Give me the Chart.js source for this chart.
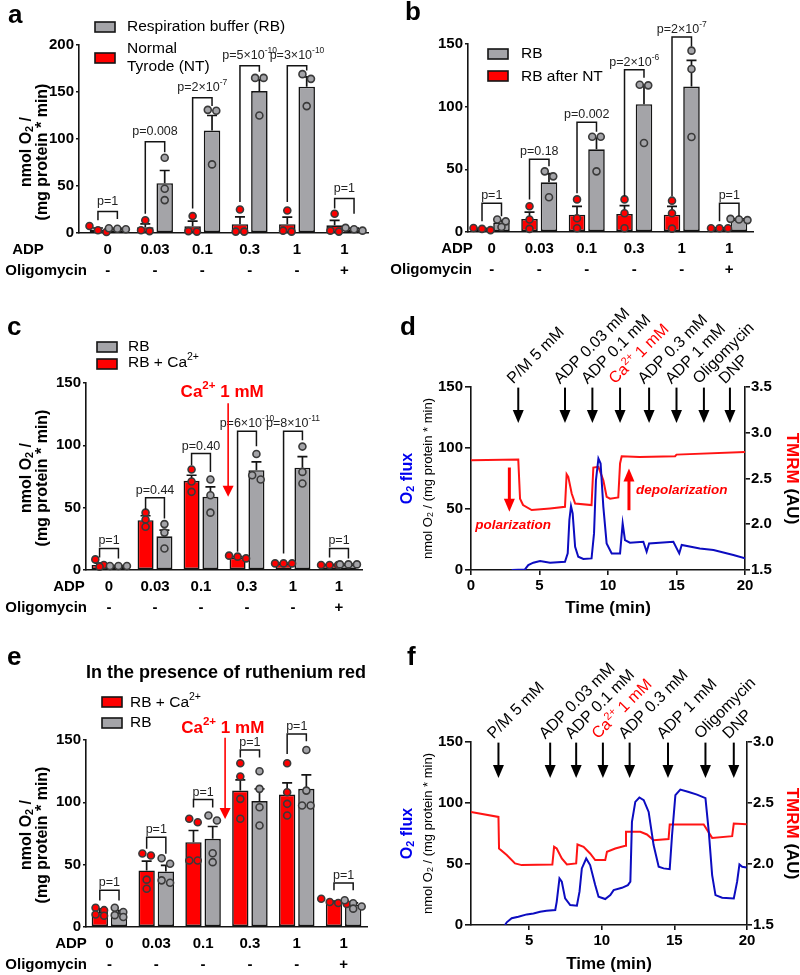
<!DOCTYPE html>
<html>
<head>
<meta charset="utf-8">
<script src="https://cdn.jsdelivr.net/npm/chart.js@4.4.1/dist/chart.umd.min.js"></script>
<style>
  body { margin: 0; background: #fff; }
  #fig { position: relative; width: 800px; height: 975px; overflow: hidden; }
  canvas { position: absolute; }
  .tag { position: absolute; font: bold 26px Arial, "Liberation Sans", sans-serif; line-height: 26px; color: #000; }
</style>
</head>
<body>
<div id="fig">
  <canvas id="panelA" width="400" height="320" style="left:0;top:0"></canvas>
  <canvas id="panelB" width="430" height="320" style="left:370px;top:0"></canvas>
  <canvas id="panelC" width="400" height="320" style="left:0;top:320px"></canvas>
  <canvas id="panelD" width="400" height="340" style="left:400px;top:300px"></canvas>
  <canvas id="panelE" width="400" height="335" style="left:0;top:640px"></canvas>
  <canvas id="panelF" width="400" height="335" style="left:400px;top:640px"></canvas>
  <div class="tag" style="left:8px;top:1px">a</div>
  <div class="tag" style="left:405px;top:-2px">b</div>
  <div class="tag" style="left:7px;top:313px">c</div>
  <div class="tag" style="left:400px;top:313px">d</div>
  <div class="tag" style="left:7px;top:643px">e</div>
  <div class="tag" style="left:407px;top:643px">f</div>
</div>
<script>
// ---- data ----
const adpDoses = ["0", "0.03", "0.1", "0.3", "1", "1"];
const oligoFlags = ["-", "-", "-", "-", "-", "+"];

// a: respiration buffer vs normal tyrode
const aNtMean = [3.8, 6.2, 7.2, 9.3, 9.3, 8.2];
const aNtSem = [1.5, 3.5, 5.5, 7.8, 7.5, 5.3];
const aNtPts = [[7.5, 3, 1], [13.5, 3, 2], [18, 2, 1.5], [25, 1.5, 1.5], [24, 2.5, 1.5], [20.5, 2.5, 1.5]];
const aRbMean = [4.5, 53, 109, 151, 155.6, 4];
const aRbSem = [0.5, 13.5, 16, 12, 10.5, 1.2];
const aRbPts = [[4, 5, 4.5], [80, 47, 35], [131, 130, 73], [165, 165, 125], [169, 164, 135], [2.5, 4, 5.5]];
const aBrTop = [23, 97, 144, 178, 178, 36.6];
const aBrLeft = [13.5, 20.6, 26, 33, 33, 26];
const aBrRight = [15, 86, 135, 171.5, 173, 20.6];
const aPvals = ["p=1", "p=0.008", "p=2×10^{-7}", "p=5×10^{-10}", "p=3×10^{-10}", "p=1"];

// b: RB vs RB after NT
const bNtMean = [2.5, 10.4, 13.8, 14.4, 13.8, 3];
const bNtSem = [0.5, 5.5, 6.7, 6.6, 6.7, 0.3];
const bNtPts = [[1.5, 2.5, 3.2], [20.5, 10, 2.5], [26, 11, 3], [26, 15, 3], [25, 15, 2.7], [3, 3, 3]];
const bRbMean = [7.5, 39.6, 66, 102, 116, 10];
const bRbSem = [1.5, 7, 9, 15, 21, 0.5];
const bRbPts = [[10, 8.5, 4], [48.4, 44.4, 27.7], [76, 76, 48.4], [117.5, 117, 71], [144.7, 130, 75.8], [10, 10.5, 9.5]];
const bBrTop = [23, 58, 87.5, 129.5, 155.6, 23];
const bBrLeft = [8.5, 26, 31, 28.5, 28.5, 8.5];
const bBrRight = [12.5, 52.4, 80, 123, 148, 12.5];
const bPvals = ["p=1", "p=0.18", "p=0.002", "p=2×10^{-6}", "p=2×10^{-7}", "p=1"];

// c: RB vs RB + Ca2+
const cCaMean = [4, 40, 71.5, 10, 5.3, 4];
const cCaSem = [1.5, 3.5, 4.5, 0.8, 0.3, 0.3];
const cCaPts = [[8.5, 4, 2.7], [46, 40.5, 34.7], [80.6, 71, 62.7], [9.3, 10.7, 11.5], [5.3, 5.3, 5.3], [4, 4, 4]];
const cRbMean = [3.2, 27, 58.7, 80, 82, 4.5];
const cRbSem = [0.3, 5, 8, 6.7, 9, 0.3];
const cRbPts = [[3.2, 3.2, 3.2], [36.8, 30, 17.3], [72.6, 60, 46], [93, 76, 72.6], [99, 78.7, 69.4], [4.5, 4.5, 4.5]];
const cBrTop = [17.3, 58, 93.4, 111.3, 111.3, 17.3];
const cBrLeft = [10, 48.6, 84, 14.7, 13.3, 10];
const cBrRight = [9.3, 41.4, 78.7, 99.3, 104, 9.3];
const cPvals = ["p=1", "p=0.44", "p=0.40", "p=6×10^{-10}", "p=8×10^{-11}", "p=1"];

// e: with ruthenium red
const eCaMean = [12, 45.4, 68, 109.4, 106.2, 20];
const eCaSem = [2.5, 7.4, 9.4, 8.6, 9.4, 0.8];
const eCaPts = [[15.5, 13.5, 10, 9], [59, 57.4, 38, 30.7], [86.8, 84, 53.4, 53.4], [131.3, 120.7, 102.8, 86.8], [131.3, 108.1, 98.8, 89.4], [22.7, 20, 19.2, 18.5]];
const eRbMean = [11.2, 44.6, 70.7, 101, 110.8, 17.9];
const eRbSem = [2, 4.8, 9.9, 9.8, 11.2, 1.4];
const eRbPts = [[15.5, 12, 9.5, 8], [55.2, 50.7, 37.4, 35.5], [89.4, 85.4, 59.2, 52], [124.9, 110.8, 96.1, 81.4], [142, 109.4, 97.4, 97.4], [21.4, 19, 16.5, 14.7]];
const eBrTop = [29.4, 72, 102.2, 142, 154.8, 35.2];
const eBrLeft = [21.3, 62.7, 95.8, 136, 138.8, 29.4];
const eBrRight = [21.3, 58.7, 95.8, 136, 148.9, 29.4];
const ePvals = ["p=1", "p=1", "p=1", "p=1", "p=1", "p=1"];

// d/f: traces (time in min)
const arrowLabels = ["P/M 5 mM", "ADP 0.03 mM", "ADP 0.1 mM", "Ca^{2+} 1 mM", "ADP 0.3 mM", "ADP 1 mM", "Oligomycin", "DNP"];
const dArrowT = [3.45, 6.86, 8.86, 10.88, 13.0, 15.0, 17.0, 18.9];
const fArrowT = [2.89, 6.45, 8.24, 10.08, 11.92, 14.56, 17.14, 19.09];
const arrowTop = 149.5;
const arrowTip = 120.5;

const dFluxT = [2.97, 3.94, 4.18, 4.55, 5.04, 5.77, 6.86, 7.06, 7.18, 7.3, 7.42, 7.6, 7.83, 8.2, 8.8, 8.98, 9.12, 9.3, 9.46, 9.66, 9.9, 10.27, 10.88, 11.07, 11.24, 11.6, 12.58, 12.82, 13.0, 14.77, 15.2, 15.38, 16.7, 17.7, 19.15, 20];
const dFluxV = [0, 0.5, 4, 6, 7.4, 6, 6.8, 13.6, 40.9, 52.4, 46.4, 19, 10.9, 9, 9.5, 30, 73.6, 91.4, 87.3, 51.8, 21.8, 13.6, 13.6, 38.2, 24.5, 22.4, 23.2, 15, 21.8, 23.2, 13.6, 20.5, 17.7, 16.4, 12.3, 9.5];
const dTmrmT = [0, 3.45, 3.58, 3.8, 4.43, 5.77, 6.86, 6.98, 7.1, 7.35, 7.6, 8.8, 8.93, 9.3, 9.66, 9.9, 10.15, 10.75, 10.88, 11.0, 12.3, 14.9, 15.0, 20];
const dTmrmV = [2.70, 2.707, 2.28, 2.21, 2.155, 2.173, 2.19, 2.547, 2.519, 2.336, 2.227, 2.21, 2.62, 2.627, 2.48, 2.30, 2.28, 2.293, 2.664, 2.744, 2.736, 2.744, 2.761, 2.79];

const fFluxT = [3.34, 3.46, 3.8, 4.26, 4.84, 5.3, 5.76, 6.2, 6.8, 6.9, 7.09, 7.25, 7.48, 7.83, 8.29, 8.47, 8.63, 8.93, 9.2, 9.55, 9.78, 10.24, 10.59, 10.82, 11.39, 11.8, 11.97, 12.08, 12.31, 12.59, 12.89, 13.23, 13.57, 13.92, 14.26, 14.68, 14.84, 15.07, 15.41, 15.99, 16.56, 17.14, 17.37, 17.6, 17.83, 18.29, 19.09, 19.32, 19.48, 19.67, 19.97];
const fFluxV = [0, 2.2, 5.5, 6.8, 8.7, 9.5, 10.9, 11.7, 12.3, 19, 38.2, 35.5, 21.8, 16.4, 15.8, 27.3, 46.4, 54.5, 49.1, 32.7, 23.2, 21.3, 24.5, 28.6, 30.5, 32.7, 35.5, 84.5, 100.9, 104.5, 102.3, 92.7, 65.5, 47.7, 46.4, 45.8, 73.6, 106.4, 111, 109, 106.9, 104, 76.4, 40.9, 24.5, 22.4, 21.8, 35.5, 49.6, 47.7, 47.2];
const fTmrmT = [1, 2.89, 2.93, 3.46, 4.03, 4.49, 6.6, 6.72, 6.9, 7.25, 7.6, 8.24, 8.33, 8.75, 9.2, 9.55, 10.24, 10.36, 10.93, 11.62, 11.67, 12.66, 13.11, 13.57, 14.6, 14.68, 17.02, 17.6, 18.98, 19.09, 19.97];
const fTmrmV = [2.427, 2.386, 2.127, 2.073, 2.005, 1.991, 1.996, 2.141, 2.127, 2.045, 1.996, 2.005, 2.16, 2.141, 2.086, 2.032, 2.032, 2.10, 2.127, 2.149, 2.264, 2.264, 2.242, 2.195, 2.204, 2.324, 2.324, 2.214, 2.228, 2.332, 2.326];

const dXTicks = [0, 5, 10, 15, 20];
const fXTicks = [5, 10, 15, 20];

// ---- style ----
const FONT = 'Arial, "Liberation Sans", sans-serif';
const RED = "#ff0000";
const GRAY = "#a4a4a8";
const INK = "#141414";
const BLUE = "#0c0cc0";
const TRED = "#ff1414";

Chart.defaults.font.family = FONT;
Chart.defaults.color = "#000";

const $ = (id) => document.getElementById(id);

// text with ^{sup} and _{sub} parts
function richParts(str) {
  const out = [];
  const re = /([\^_])\{([^}]*)\}/g;
  let last = 0;
  let m;
  while ((m = re.exec(str))) {
    if (m.index > last) out.push({ t: str.slice(last, m.index), k: "" });
    out.push({ t: m[2], k: m[1] });
    last = re.lastIndex;
  }
  if (last < str.length) out.push({ t: str.slice(last), k: "" });
  return out;
}

function drawRich(ctx, str, x, y, size, weight, align) {
  const parts = richParts(str);
  const fontOf = (p) => `${weight} ${p.k ? size * 0.68 : size}px ${FONT}`;
  let total = 0;
  parts.forEach((p) => {
    ctx.font = fontOf(p);
    p.w = ctx.measureText(p.t).width;
    total += p.w;
  });
  let cx = align === "center" ? x - total / 2 : align === "right" ? x - total : x;
  ctx.textAlign = "left";
  parts.forEach((p) => {
    ctx.font = fontOf(p);
    const dy = p.k === "^" ? -size * 0.38 : p.k === "_" ? size * 0.2 : 0;
    ctx.fillText(p.t, cx, y + dy);
    cx += p.w;
  });
}

function arrowDown(ctx, x, yTop, yTip, color, shaft, headW, headH) {
  ctx.strokeStyle = color;
  ctx.fillStyle = color;
  ctx.lineWidth = shaft;
  const dir = yTip > yTop ? 1 : -1;
  ctx.beginPath();
  ctx.moveTo(x, yTop);
  ctx.lineTo(x, yTip - dir * headH * 0.8);
  ctx.stroke();
  ctx.beginPath();
  ctx.moveTo(x - headW / 2, yTip - dir * headH);
  ctx.lineTo(x + headW / 2, yTip - dir * headH);
  ctx.lineTo(x, yTip);
  ctx.closePath();
  ctx.fill();
}

function drawDots(ctx, chart, i, pts, fill) {
  const meta = chart.getDatasetMeta(i);
  const y = chart.scales.y;
  pts.forEach((vals, j) => {
    const x0 = meta.data[j].x;
    const ys = vals.map((v) => y.getPixelForValue(v)).sort((p, q) => p - q);
    const groups = [];
    ys.forEach((py) => {
      const g = groups[groups.length - 1];
      if (g && py - g[0] < 6.5) g.push(py);
      else groups.push([py]);
    });
    groups.forEach((g) => {
      g.forEach((py, k) => {
        const dx = (k - (g.length - 1) / 2) * 8.5;
        ctx.beginPath();
        ctx.arc(x0 + dx, py, 3.5, 0, Math.PI * 2);
        ctx.fillStyle = fill;
        ctx.fill();
        ctx.lineWidth = 1.6;
        ctx.strokeStyle = "#3a3a3a";
        ctx.stroke();
      });
    });
  });
}

function barDecor(cfg) {
  return {
    id: "barDecor",
    afterLayout(chart) {
      if (!cfg.xShift) return;
      const xs = chart.scales.x;
      xs._startPixel += cfg.xShift;
      xs._length = xs._endPixel - xs._startPixel;
    },
    afterDatasetsDraw(chart) {
      const ctx = chart.ctx;
      const y = chart.scales.y;
      ctx.save();
      // error bars (mean + SEM)
      cfg.series.forEach((s, i) => {
        chart.getDatasetMeta(i).data.forEach((bar, j) => {
          const y0 = y.getPixelForValue(s.mean[j]);
          const y1 = y.getPixelForValue(s.mean[j] + s.sem[j]);
          ctx.strokeStyle = INK;
          ctx.lineWidth = 1.7;
          ctx.beginPath();
          ctx.moveTo(bar.x, y0);
          ctx.lineTo(bar.x, y1);
          ctx.moveTo(bar.x - 5, y1);
          ctx.lineTo(bar.x + 5, y1);
          ctx.stroke();
        });
      });
      cfg.series.forEach((s, i) => drawDots(ctx, chart, i, s.pts, s.color));
      // significance brackets
      const left = chart.getDatasetMeta(0).data;
      const right = chart.getDatasetMeta(1).data;
      ctx.textBaseline = "middle";
      cfg.br.top.forEach((t, j) => {
        const xl = left[j].x;
        const xr = right[j].x;
        const yt = y.getPixelForValue(t);
        ctx.strokeStyle = INK;
        ctx.lineWidth = 1.5;
        ctx.beginPath();
        ctx.moveTo(xl, y.getPixelForValue(cfg.br.left[j]));
        ctx.lineTo(xl, yt);
        ctx.lineTo(xr, yt);
        ctx.lineTo(xr, y.getPixelForValue(cfg.br.right[j]));
        ctx.stroke();
        ctx.fillStyle = "#222";
        drawRich(ctx, cfg.br.text[j], (xl + xr) / 2, yt - cfg.br.gap, 12.5, "", "center");
      });
      ctx.restore();
    },
    afterDraw(chart) {
      const ctx = chart.ctx;
      const xs = chart.scales.x;
      const y = chart.scales.y;
      ctx.save();
      // y axis title
      if (cfg.ytitle.show) {
        ctx.save();
        ctx.translate(cfg.ytitle.x, cfg.ytitle.y);
        ctx.rotate(-Math.PI / 2);
        ctx.fillStyle = "#000";
        ctx.textBaseline = "middle";
        drawRich(ctx, "nmol O_{2} /", 0, 0, 16, "bold", "center");
        drawRich(ctx, "(mg protein * min)", 0, 15.5, 16, "bold", "center");
        ctx.restore();
      }

      // row labels, aligned with the tick rows
      const items = xs.getLabelItems();
      const first = items[0];
      const lh = first.font.lineHeight;
      const row0 = first.options.translation[1] + first.textOffset;
      ctx.font = "bold 15px " + FONT;
      ctx.fillStyle = "#000";
      ctx.textBaseline = first.options.textBaseline;
      ctx.textAlign = "center";
      ctx.fillText("ADP", cfg.rows.adp, row0);
      ctx.textAlign = "right";
      ctx.fillText("Oligomycin", cfg.rows.oligo, row0 + lh);

      // legend
      cfg.legend.forEach((it) => {
        ctx.fillStyle = it.color;
        ctx.fillRect(it.bx, it.by, 20, 10);
        ctx.strokeStyle = INK;
        ctx.lineWidth = 1.6;
        ctx.strokeRect(it.bx, it.by, 20, 10);
        ctx.fillStyle = "#000";
        ctx.textBaseline = "middle";
        it.text.forEach((t, k) => drawRich(ctx, t, it.tx, it.ty + k * 18, 15.5, "", "left"));
      });

      // Ca2+ addition arrow
      if (cfg.ca) {
        const ax = xs.getPixelForValue(cfg.ca.x);
        arrowDown(ctx, ax, y.getPixelForValue(cfg.ca.from), y.getPixelForValue(cfg.ca.to), RED, 1.6, 11, 11);
        ctx.fillStyle = RED;
        ctx.textBaseline = "middle";
        drawRich(ctx, "Ca^{2+} 1 mM", xs.getPixelForValue(cfg.ca.tx), y.getPixelForValue(cfg.ca.ty), 17, "bold", "center");
      }

      if (cfg.title) {
        ctx.font = "bold 18px " + FONT;
        ctx.fillStyle = "#000";
        ctx.textAlign = "center";
        ctx.textBaseline = "middle";
        ctx.fillText(cfg.title.text, cfg.title.x, cfg.title.y);
      }
      ctx.restore();
    },
  };
}

function barChart(id, cfg) {
  return new Chart($(id), {
    type: "bar",
    data: {
      labels: adpDoses.map((d, i) => [d, oligoFlags[i]]),
      datasets: cfg.series.map((s) => ({
        data: s.mean,
        backgroundColor: s.color,
        borderColor: INK,
        borderWidth: 1.6,
        borderSkipped: false,
        categoryPercentage: 0.82,
        barPercentage: 0.85,
      })),
    },
    options: {
      responsive: false,
      animation: false,
      events: [],
      layout: { padding: { left: 0, top: cfg.box.top, right: cfg.box.right, bottom: 0 } },
      plugins: { legend: { display: false }, tooltip: { enabled: false } },
      scales: {
        x: {
          grid: { display: false, tickLength: 0 },
          border: { color: INK, width: 1.6 },
          ticks: { color: "#000", padding: 7, autoSkip: false, maxRotation: 0, font: { size: 15, weight: "bold", lineHeight: 1.37 } },
          afterFit: (s) => { s.height = cfg.box.xh; },
        },
        y: {
          min: 0,
          max: cfg.ymax,
          ticks: { stepSize: 50, color: "#000", padding: 2, font: { size: 15, weight: "bold" } },
          grid: { drawOnChartArea: false, tickLength: 3, color: INK, lineWidth: 1.6 },
          border: { color: INK, width: 1.6 },
          afterFit: (s) => { s.width = cfg.box.yw; },
        },
      },
    },
    plugins: [barDecor(cfg)],
  });
}

function traceDecor(cfg) {
  return {
    id: "traceDecor",
    afterDraw(chart) {
      const ctx = chart.ctx;
      const x = chart.scales.x;
      const y = chart.scales.y;
      const area = chart.chartArea;
      ctx.save();
      cfg.arrows.forEach((t, k) => {
        const px = x.getPixelForValue(t);
        const top = y.getPixelForValue(arrowTop);
        arrowDown(ctx, px, top, y.getPixelForValue(arrowTip), "#000", 2, 11, 13);
        ctx.save();
        ctx.translate(px - 5, top - 3);
        ctx.rotate(-Math.PI / 4);
        ctx.fillStyle = k === 3 ? RED : "#000";
        ctx.textBaseline = "alphabetic";
        drawRich(ctx, arrowLabels[k], 0, 0, 16, "", "left");
        ctx.restore();
      });
      (cfg.redArrows || []).forEach((a) => {
        arrowDown(ctx, x.getPixelForValue(a.x), y.getPixelForValue(a.from), y.getPixelForValue(a.to), RED, 3, 11, 13);
      });
      (cfg.notes || []).forEach((n) => {
        ctx.font = "italic bold 13.5px " + FONT;
        ctx.fillStyle = RED;
        ctx.textAlign = n.align;
        ctx.textBaseline = "middle";
        ctx.fillText(n.text, x.getPixelForValue(n.x), y.getPixelForValue(n.y));
      });
      // left axis title
      const cy = (area.top + area.bottom) / 2;
      ctx.save();
      ctx.translate(8, cy);
      ctx.rotate(-Math.PI / 2);
      ctx.textBaseline = "middle";
      ctx.fillStyle = "#0000ee";
      drawRich(ctx, "O_{2} flux", 0, 0, 16, "bold", "center");
      ctx.fillStyle = "#000";
      drawRich(ctx, "nmol O_{2} / (mg protein * min)", 0, 20, 13, "", "center");
      ctx.restore();
      // right axis title
      ctx.save();
      ctx.translate(chart.width - 8, cy);
      ctx.rotate(Math.PI / 2);
      ctx.font = "bold 17px " + FONT;
      ctx.textBaseline = "middle";
      ctx.textAlign = "left";
      const w1 = ctx.measureText("TMRM ").width;
      const w2 = ctx.measureText("(AU)").width;
      ctx.fillStyle = RED;
      ctx.fillText("TMRM ", -(w1 + w2) / 2, 0);
      ctx.fillStyle = "#000";
      ctx.fillText("(AU)", -(w1 + w2) / 2 + w1, 0);
      ctx.restore();
      ctx.restore();
    },
  };
}

function traceChart(id, cfg) {
  const axisTicks = { color: "#000", font: { size: 15, weight: "bold" } };
  return new Chart($(id), {
    type: "line",
    data: {
      datasets: [
        {
          data: cfg.fluxT.map((t, i) => ({ x: t, y: cfg.fluxV[i] })),
          borderColor: BLUE,
          borderWidth: 2,
          pointRadius: 0,
          tension: 0,
          yAxisID: "y",
        },
        {
          data: cfg.tmrmT.map((t, i) => ({ x: t, y: cfg.tmrmV[i] })),
          borderColor: TRED,
          borderWidth: 2,
          pointRadius: 0,
          tension: 0,
          yAxisID: "y1",
        },
      ],
    },
    options: {
      responsive: false,
      animation: false,
      events: [],
      layout: { padding: { left: 0, top: cfg.box.top, right: 0, bottom: 0 } },
      plugins: { legend: { display: false }, tooltip: { enabled: false } },
      scales: {
        x: {
          type: "linear",
          min: cfg.xmin,
          max: 20,
          afterBuildTicks: (s) => { s.ticks = cfg.xticks.map((v) => ({ value: v })); },
          ticks: { ...axisTicks, padding: 2 },
          grid: { drawOnChartArea: false, tickLength: 5, color: INK, lineWidth: 1.6 },
          border: { color: INK, width: 1.6 },
          title: { display: true, text: "Time (min)", color: "#000", font: { size: 17, weight: "bold", lineHeight: 1.2 }, padding: { top: 0, bottom: cfg.titlePad } },
          afterFit: (s) => { s.height = cfg.box.xh; },
        },
        y: {
          position: "left",
          min: 0,
          max: 150,
          ticks: { ...axisTicks, stepSize: 50, padding: 2 },
          grid: { drawOnChartArea: false, tickLength: 6, color: INK, lineWidth: 1.6 },
          border: { color: INK, width: 1.6 },
          afterFit: (s) => { s.width = cfg.box.yw; },
        },
        y1: {
          position: "right",
          min: cfg.rmin,
          max: cfg.rmax,
          ticks: { ...axisTicks, stepSize: 0.5, padding: 1, callback: (v) => v.toFixed(1) },
          grid: { drawOnChartArea: false, tickLength: 5, color: INK, lineWidth: 1.6 },
          border: { color: INK, width: 1.6 },
          afterFit: (s) => { s.width = cfg.box.rw; },
        },
      },
    },
    plugins: [traceDecor(cfg)],
  });
}

// ---- panels ----
barChart("panelA", {
  ymax: 200,
  xShift: 5,
  box: { top: 45, right: 32, yw: 79, xh: 87 },
  series: [
    { mean: aNtMean, sem: aNtSem, pts: aNtPts, color: RED },
    { mean: aRbMean, sem: aRbSem, pts: aRbPts, color: GRAY },
  ],
  br: { top: aBrTop, left: aBrLeft, right: aBrRight, text: aPvals, gap: 10 },
  ytitle: { show: true, x: 27, y: 152 },
  rows: { adp: 28, oligo: 87 },
  legend: [
    { color: GRAY, bx: 95, by: 22, tx: 127, ty: 27, text: ["Respiration buffer (RB)"] },
    { color: RED, bx: 95, by: 53, tx: 127, ty: 49, text: ["Normal", "Tyrode (NT)"] },
  ],
});

barChart("panelB", {
  ymax: 150,
  box: { top: 44, right: 47, yw: 98, xh: 88 },
  series: [
    { mean: bNtMean, sem: bNtSem, pts: bNtPts, color: RED },
    { mean: bRbMean, sem: bRbSem, pts: bRbPts, color: GRAY },
  ],
  br: { top: bBrTop, left: bBrLeft, right: bBrRight, text: bPvals, gap: 7.5 },
  ytitle: { show: false, x: 0, y: 0 },
  rows: { adp: 87, oligo: 102 },
  legend: [
    { color: GRAY, bx: 118, by: 49, tx: 151, ty: 54, text: ["RB"] },
    { color: RED, bx: 118, by: 71, tx: 151, ty: 77, text: ["RB after NT"] },
  ],
});

barChart("panelC", {
  ymax: 150,
  box: { top: 63, right: 38, yw: 86, xh: 70 },
  series: [
    { mean: cCaMean, sem: cCaSem, pts: cCaPts, color: RED },
    { mean: cRbMean, sem: cRbSem, pts: cRbPts, color: GRAY },
  ],
  br: { top: cBrTop, left: cBrLeft, right: cBrRight, text: cPvals, gap: 7.5 },
  ytitle: { show: true, x: 27, y: 158 },
  rows: { adp: 69, oligo: 87 },
  legend: [
    { color: GRAY, bx: 97, by: 22, tx: 128, ty: 27, text: ["RB"] },
    { color: RED, bx: 97, by: 39, tx: 128, ty: 43, text: ["RB + Ca^{2+}"] },
  ],
  ca: { x: 2.59, from: 133.7, to: 58.7, tx: 2.46, ty: 142.5 },
});

traceChart("panelD", {
  xmin: 0,
  xticks: dXTicks,
  rmin: 1.5,
  rmax: 3.5,
  titlePad: 21,
  box: { top: 87, yw: 71, rw: 55, xh: 70 },
  fluxT: dFluxT,
  fluxV: dFluxV,
  tmrmT: dTmrmT,
  tmrmV: dTmrmV,
  arrows: dArrowT,
  redArrows: [
    { x: 2.8, from: 84, to: 47.7 },
    { x: 11.53, from: 49, to: 83.2 },
  ],
  notes: [
    { text: "polarization", x: 3.08, y: 36.8, align: "center" },
    { text: "depolarization", x: 12.04, y: 65.5, align: "left" },
  ],
});

barChart("panelE", {
  ymax: 150,
  box: { top: 100, right: 33, yw: 86, xh: 48 },
  series: [
    { mean: eCaMean, sem: eCaSem, pts: eCaPts, color: RED },
    { mean: eRbMean, sem: eRbSem, pts: eRbPts, color: GRAY },
  ],
  br: { top: eBrTop, left: eBrLeft, right: eBrRight, text: ePvals, gap: 7.5 },
  ytitle: { show: true, x: 27, y: 195 },
  rows: { adp: 71, oligo: 87 },
  legend: [
    { color: RED, bx: 102, by: 57, tx: 130, ty: 63, text: ["RB + Ca^{2+}"] },
    { color: GRAY, bx: 102, by: 78, tx: 130, ty: 83, text: ["RB"] },
  ],
  ca: { x: 2.47, from: 151.9, to: 86.7, tx: 2.42, ty: 159.6 },
  title: { text: "In the presence of ruthenium red", x: 226, y: 33 },
});

traceChart("panelF", {
  xmin: 1,
  xticks: fXTicks,
  rmin: 1.5,
  rmax: 3.0,
  titlePad: 0,
  box: { top: 102, yw: 71, rw: 53, xh: 50 },
  fluxT: fFluxT,
  fluxV: fFluxV,
  tmrmT: fTmrmT,
  tmrmV: fTmrmV,
  arrows: fArrowT,
});
</script>
</body>
</html>
